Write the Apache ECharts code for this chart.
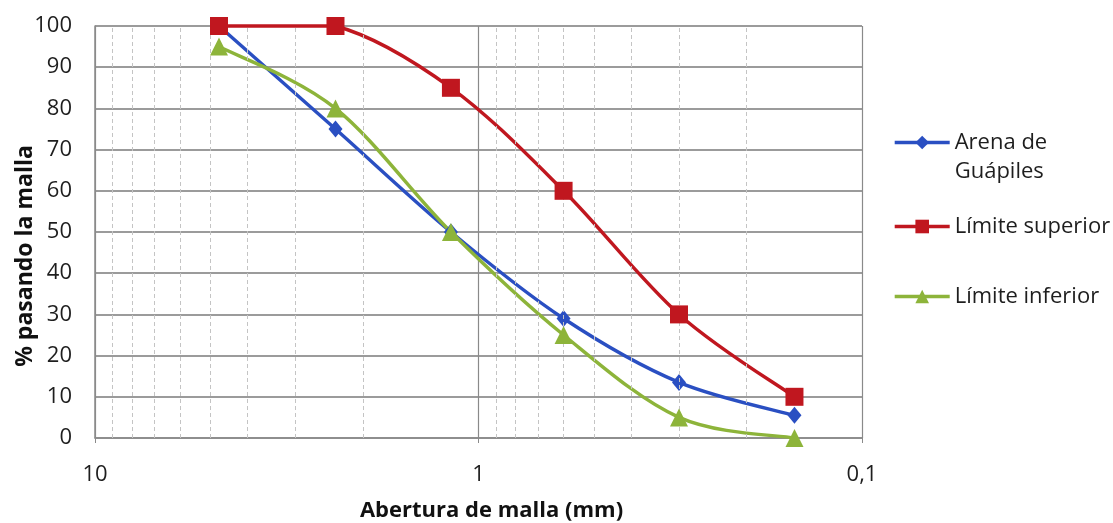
<!DOCTYPE html>
<html>
<head>
<meta charset="utf-8">
<script src="https://cdn.jsdelivr.net/npm/echarts@6/dist/echarts.min.js"></script>
<style>
  html, body { margin: 0; padding: 0; background: #ffffff; }
  #chart { width: 1113px; height: 523px; }
</style>
</head>
<body>
<div id="chart"></div>
<script>
// Sieve openings (mm) and percent passing for each curve
const aberturas = [4.75, 2.36, 1.18, 0.6, 0.3, 0.15];
const arenaGuapiles = [100, 75, 50, 29, 13.5, 5.5];
const limiteSuperior = [100, 100, 85, 60, 30, 10];
const limiteInferior = [95, 80, 50, 25, 5, 0];

// Intermediate log divisions drawn as dashed grid lines
const divisionesMenores = [9, 8, 7, 6, 5, 4, 3, 2, 0.9, 0.8, 0.7, 0.6, 0.5, 0.4, 0.3, 0.2];

const nombres = ['Arena de Guápiles', 'Límite superior', 'Límite inferior'];
const colores = ['#2a4fc2', '#c0171f', '#8db43a'];
const simbolos = ['diamond', 'rect', 'triangle'];
const tamanos = [[14, 17], 18, 18];
const valores = [arenaGuapiles, limiteSuperior, limiteInferior];

const FONT = 'Open Sans';
const GROSOR = 3.4;

// Markers (and legend entries) for each curve
const series = nombres.map((nombre, i) => ({
  name: nombre,
  type: 'line',
  data: aberturas.map((x, k) => [x, valores[i][k]]),
  symbol: simbolos[i],
  symbolSize: tamanos[i],
  lineStyle: { color: colores[i], width: GROSOR, opacity: 0 },
  itemStyle: { color: colores[i] },
  z: 4 + i
}));

// Smoothed curves (Catmull-Rom through the points, in screen space)
function curva(i) {
  return {
    name: 'curva ' + nombres[i],
    type: 'custom',
    coordinateSystem: 'cartesian2d',
    silent: true,
    z: 3,
    data: aberturas.map((x, k) => [x, valores[i][k]]),
    encode: { x: 0, y: 1 },
    renderItem: (params, api) => {
      if (params.dataIndex !== 0) return;
      const pts = aberturas.map((x, k) => api.coord([x, valores[i][k]]));
      const sup = params.coordSys.y;
      const inf = params.coordSys.y + params.coordSys.height;
      const lim = v => Math.min(inf, Math.max(sup, v));
      const n = pts.length;
      const tramos = [];
      for (let k = 0; k < n - 1; k++) {
        const p0 = pts[Math.max(k - 1, 0)];
        const p1 = pts[k];
        const p2 = pts[k + 1];
        const p3 = pts[Math.min(k + 2, n - 1)];
        tramos.push({
          type: 'bezierCurve',
          shape: {
            x1: p1[0], y1: p1[1],
            x2: p2[0], y2: p2[1],
            cpx1: p1[0] + (p2[0] - p0[0]) / 6,
            cpy1: lim(p1[1] + (p2[1] - p0[1]) / 6),
            cpx2: p2[0] - (p3[0] - p1[0]) / 6,
            cpy2: lim(p2[1] - (p3[1] - p1[1]) / 6)
          },
          style: { fill: null, stroke: colores[i], lineWidth: GROSOR, lineCap: 'round' }
        });
      }
      return { type: 'group', children: tramos };
    }
  };
}
nombres.forEach((_, i) => series.push(curva(i)));

// Dashed minor grid (log divisions)
series.push({
  name: 'divisiones',
  type: 'line',
  data: [],
  silent: true,
  z: 1,
  markLine: {
    silent: true,
    symbol: 'none',
    label: { show: false },
    lineStyle: { color: '#c4c4c4', type: [4, 3], width: 1 },
    data: divisionesMenores.map(v => ({ xAxis: v }))
  }
});

function leyenda(nombre, top) {
  return {
    data: [nombre],
    left: 893,
    top: top,
    padding: 0,
    itemWidth: 55,
    itemHeight: 17,
    itemGap: 0,
    selectedMode: false,
    lineStyle: { width: GROSOR, opacity: 1 },
    formatter: n => n === 'Arena de Guápiles' ? ' \nArena de\nGuápiles' : n,
    textStyle: { fontFamily: FONT, fontSize: 22, color: '#1e1e1e', lineHeight: 29 }
  };
}

const option = {
  backgroundColor: '#ffffff',
  animation: false,
  grid: { left: 95, right: 251, top: 26, bottom: 85, containLabel: false, outerBoundsMode: 'none' },
  legend: [
    leyenda(nombres[0], 99),
    leyenda(nombres[1], 212),
    leyenda(nombres[2], 282)
  ],
  xAxis: {
    type: 'log',
    logBase: 10,
    min: 0.1,
    max: 10,
    inverse: true,
    name: 'Abertura de malla (mm)',
    nameLocation: 'middle',
    nameGap: 62,
    nameMoveOverlap: false,
    nameTextStyle: { fontFamily: FONT, fontSize: 22, fontWeight: 'bold', color: '#111', padding: [0, 0, 0, 26] },
    axisLine: { show: true, lineStyle: { color: '#8a8a8a', width: 1.5 } },
    axisTick: { show: true, length: 5, lineStyle: { color: '#8a8a8a' } },
    axisLabel: {
      fontFamily: FONT, fontSize: 22, color: '#1e1e1e', margin: 26,
      formatter: v => String(v).replace('.', ',')
    },
    splitLine: { show: true, lineStyle: { color: '#8a8a8a', width: 1.2 } }
  },
  yAxis: {
    type: 'value',
    min: 0,
    max: 100,
    interval: 10,
    name: '% pasando la malla',
    nameLocation: 'middle',
    nameGap: 58,
    nameMoveOverlap: false,
    nameTextStyle: { fontFamily: FONT, fontSize: 23, fontWeight: 'bold', color: '#111', padding: [0, 48, 0, 0] },
    axisLine: { show: true, lineStyle: { color: '#8a8a8a', width: 1.5 } },
    axisTick: { show: false },
    axisLabel: { fontFamily: FONT, fontSize: 22, color: '#1e1e1e', margin: 23 },
    splitLine: { show: true, lineStyle: { color: '#7a7a7a', width: 1.5 } }
  },
  series: series
};

const chart = echarts.init(document.getElementById('chart'), null, { renderer: 'canvas' });
chart.setOption(option);
</script>
</body>
</html>
